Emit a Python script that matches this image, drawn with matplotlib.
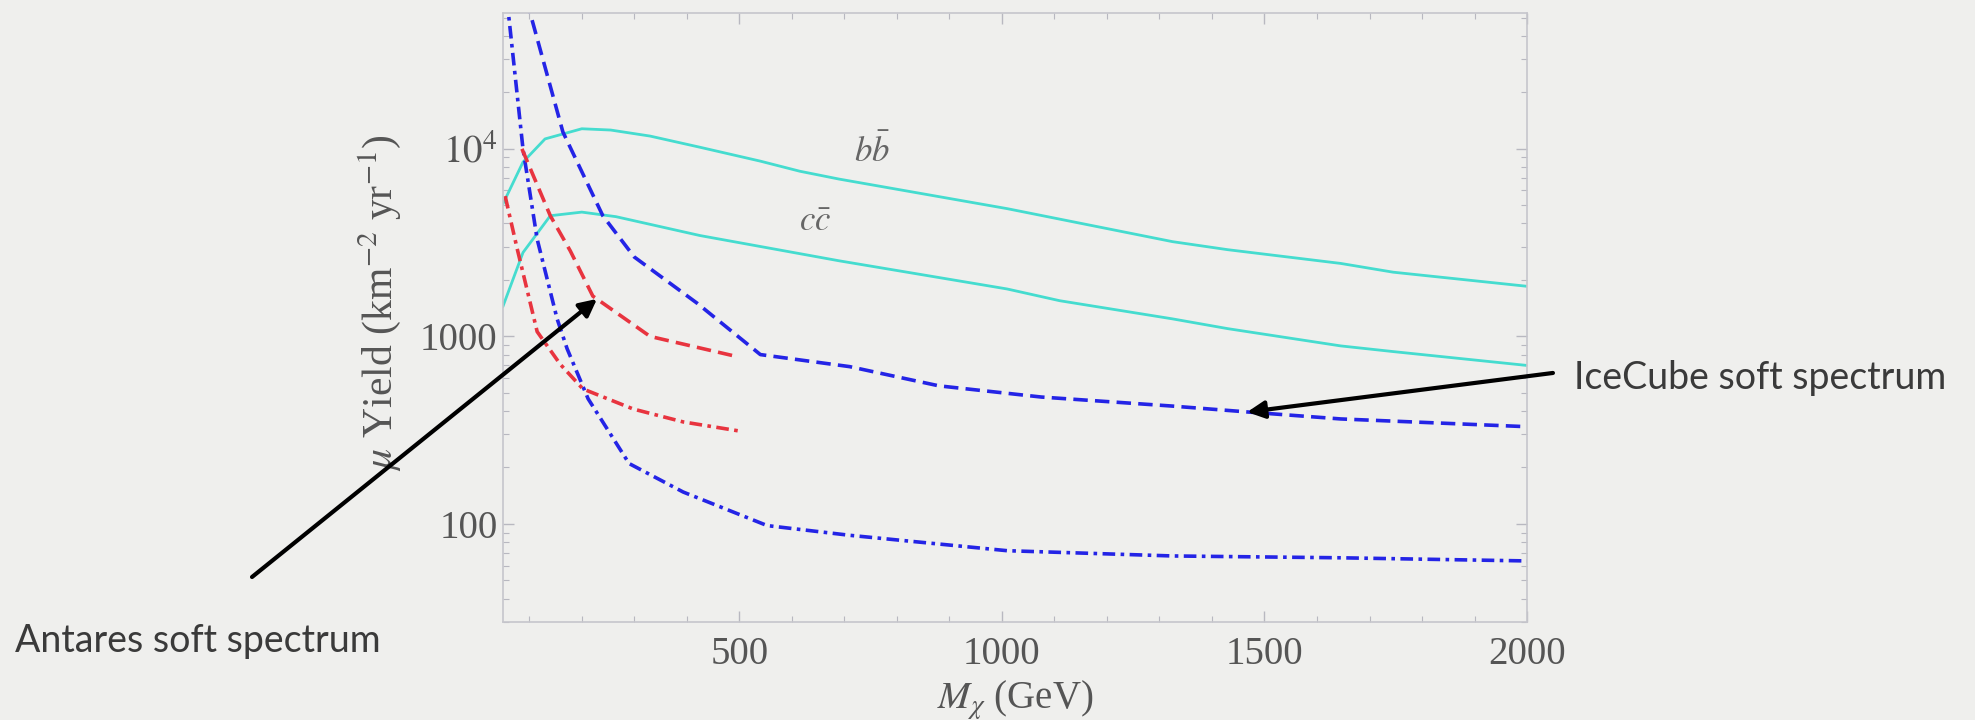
import numpy as np
import matplotlib.pyplot as plt
from matplotlib.ticker import FixedLocator, FixedFormatter, MultipleLocator, LogLocator, NullFormatter

plt.rcParams['mathtext.fontset'] = 'stix'

# cyan solid curves (b bbar, c cbar)
bb_x = [50, 88, 130, 200, 255, 330, 425, 540, 615, 690, 1010, 1325, 1430, 1645, 1745, 2000]
bb_y = [5100, 8500, 11300, 12800, 12600, 11700, 10200, 8600, 7600, 6900, 4800, 3200, 2900, 2450, 2200, 1850]
cc_x = [50, 88, 140, 200, 265, 425, 690, 1010, 1110, 1325, 1430, 1645, 1745, 2000]
cc_y = [1450, 2800, 4400, 4600, 4350, 3450, 2530, 1790, 1550, 1240, 1100, 890, 830, 700]

# IceCube soft spectrum (blue)
ic_dash_x = [90, 101, 164, 240, 300, 420, 540, 710, 880, 1075, 1325, 1470, 1645, 2000]
ic_dash_y = [80000, 53800, 12300, 4400, 2650, 1500, 800, 690, 545, 475, 425, 395, 363, 330]
ic_dd_x = [55, 60, 88, 115, 153, 172, 212, 290, 393, 553, 710, 1010, 1325, 1645, 2000]
ic_dd_y = [80000, 53800, 10000, 3300, 1240, 860, 465, 210, 148, 98, 87, 72, 67.5, 66, 63.5]

# Antares soft spectrum (red)
an_dash_x = [86, 140, 178, 221, 330, 496]
an_dash_y = [10000, 4400, 2860, 1640, 1000, 780]
an_dd_x = [54, 77, 115, 159, 202, 298, 393, 500]
an_dd_y = [5600, 2930, 1060, 710, 525, 410, 350, 313]

bg = '#efefed'
cyan = '#45dccf'
blue = '#2424e6'
red = '#e8343f'
txt = '#555555'

fig = plt.figure(figsize=(19.75, 7.2), dpi=100, facecolor=bg)
ax = fig.add_axes([0.2547, 0.1361, 0.5185, 0.8458])
ax.set_facecolor(bg)

ax.plot(bb_x, bb_y, color=cyan, lw=2.0)
ax.plot(cc_x, cc_y, color=cyan, lw=2.0)
ax.plot(ic_dash_x, ic_dash_y, color=blue, lw=2.6, dashes=(4, 2))
ax.plot(ic_dd_x, ic_dd_y, color=blue, lw=2.6, dashes=(3.5, 1.5, 1, 1.5))
ax.plot(an_dash_x, an_dash_y, color=red, lw=2.6, dashes=(4, 2))
ax.plot(an_dd_x, an_dd_y, color=red, lw=2.6, dashes=(3.5, 1.5, 1, 1.5))

ax.set_yscale('log')
ax.set_xlim(50, 2000)
ax.set_ylim(30, 53000)

ax.xaxis.set_major_locator(FixedLocator([500, 1000, 1500, 2000]))
ax.xaxis.set_minor_locator(MultipleLocator(100))
ax.yaxis.set_major_locator(FixedLocator([100, 1000, 10000]))
ax.yaxis.set_major_formatter(FixedFormatter(['100', '1000', r'$10^4$']))
ax.yaxis.set_minor_locator(LogLocator(base=10, subs=np.arange(2, 10)))
ax.yaxis.set_minor_formatter(NullFormatter())

for s in ax.spines.values():
    s.set_color('#c6c6cc')
    s.set_linewidth(1.2)
ax.tick_params(which='both', direction='in', top=True, right=True, color='#b8b8c0',
               labelcolor=txt, labelsize=28)
ax.tick_params(axis='x', pad=10)
ax.tick_params(axis='y', pad=4)
ax.tick_params(which='major', length=8, width=1)
ax.tick_params(which='minor', length=4, width=0.8)
for lab in ax.get_xticklabels() + ax.get_yticklabels():
    lab.set_family('Liberation Serif')

ax.set_xlabel(r'$M_\chi$ (GeV)', fontsize=28, color=txt, family='Liberation Serif', va='center')
ax.xaxis.set_label_coords(0.5, -0.128)
ax.set_ylabel(r'$\mu$ Yield (km$^{-2}$ yr$^{-1}$)', fontsize=30, color=txt, family='Liberation Serif')
ax.yaxis.set_label_coords(-0.098, 0.525)

ax.text(753, 9750, r'$b\bar{b}$', fontsize=25, color='#666666', ha='center', va='center')
ax.text(644, 4130, r'$c\bar{c}$', fontsize=25, color='#666666', ha='center', va='center')

arrow = dict(arrowstyle='-|>', color='black', lw=3, mutation_scale=26, shrinkA=0, shrinkB=0)
ax.annotate('', xy=(229, 1585), xycoords='data', xytext=(0.1276, 0.1986),
            textcoords='figure fraction', arrowprops=arrow, annotation_clip=False)
ax.annotate('', xy=(1467, 395), xycoords='data', xytext=(0.7863, 0.482),
            textcoords='figure fraction', arrowprops=arrow, annotation_clip=False)

fig.text(0.797, 0.475, 'IceCube soft spectrum', fontsize=27, color='#3a3a3a',
         family='Lato', ha='left', va='center')
fig.text(0.0076, 0.11, 'Antares soft spectrum', fontsize=27, color='#3a3a3a',
         family='Lato', ha='left', va='center')

fig.savefig('out.png', dpi=100, facecolor=bg)
